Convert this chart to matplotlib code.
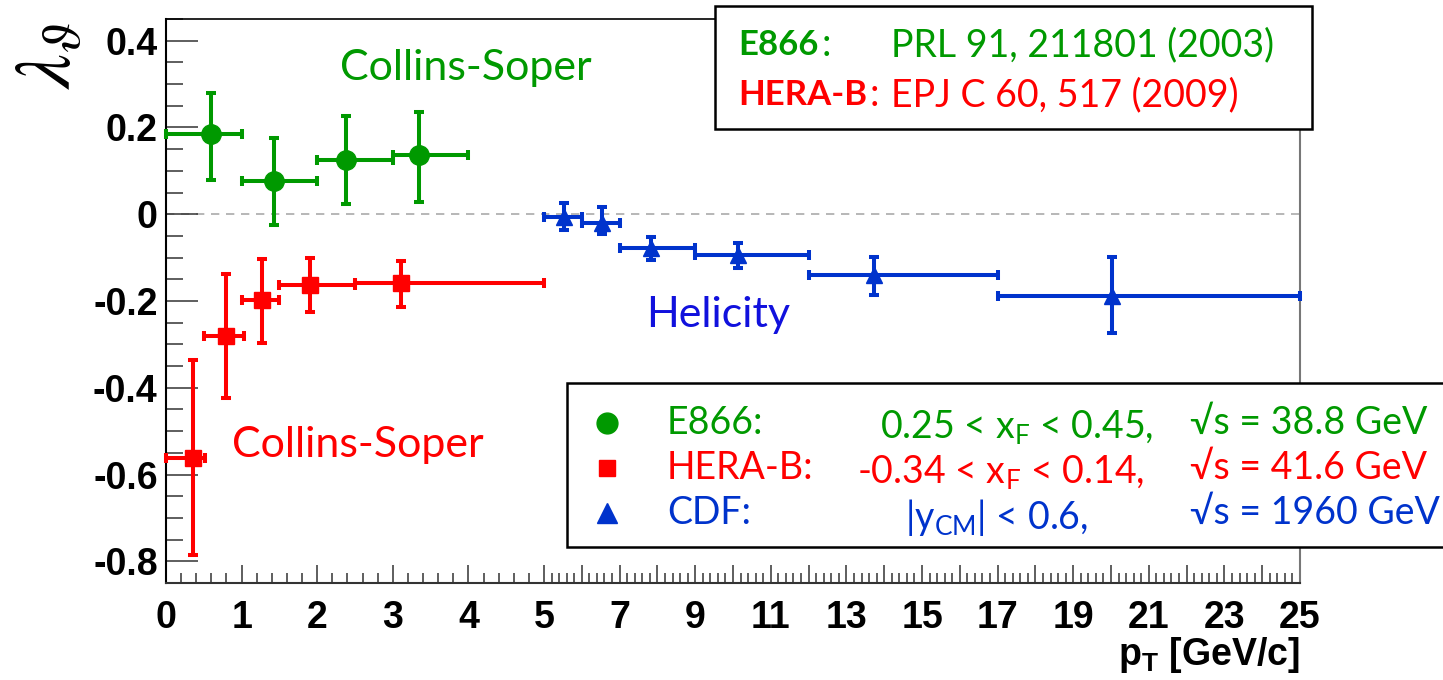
import matplotlib
matplotlib.use("Agg")
import matplotlib.pyplot as plt
from matplotlib.patches import Rectangle
from matplotlib.lines import Line2D
from matplotlib.ticker import FixedLocator, FuncFormatter
import numpy as np

plt.rcParams['axes.unicode_minus'] = False
plt.rcParams['mathtext.fontset'] = 'custom'
plt.rcParams['mathtext.rm'] = 'Lato'
plt.rcParams['mathtext.it'] = 'Lato:italic'
plt.rcParams['mathtext.bf'] = 'Liberation Sans:bold'

# E866, Collins-Soper frame
e866_pt = [0.60, 1.43, 2.38, 3.35]
e866_pt_lo = [0.0, 1.0, 2.0, 3.0]
e866_pt_hi = [1.0, 2.0, 3.0, 4.0]
e866_lam = [0.184, 0.076, 0.125, 0.136]
e866_lam_lo = [0.078, -0.025, 0.023, 0.028]
e866_lam_hi = [0.280, 0.176, 0.226, 0.235]

# HERA-B, Collins-Soper frame
herab_pt = [0.36, 0.80, 1.27, 1.91, 3.11]
herab_pt_lo = [0.0, 0.5, 1.0, 1.5, 2.5]
herab_pt_hi = [0.52, 1.03, 1.5, 2.5, 5.0]
herab_lam = [-0.561, -0.280, -0.198, -0.163, -0.159]
herab_lam_lo = [-0.786, -0.423, -0.297, -0.226, -0.213]
herab_lam_hi = [-0.336, -0.138, -0.104, -0.100, -0.107]

# CDF, helicity frame
cdf_pt = [5.52, 6.53, 7.83, 10.14, 13.73, 20.02]
cdf_pt_lo = [5, 6, 7, 9, 12, 17]
cdf_pt_hi = [6, 7, 9, 12, 17, 25]
cdf_lam = [-0.007, -0.020, -0.078, -0.094, -0.140, -0.188]
cdf_lam_lo = [-0.037, -0.046, -0.106, -0.124, -0.186, -0.273]
cdf_lam_hi = [0.026, 0.016, -0.052, -0.066, -0.098, -0.098]

GREEN = '#009900'
RED = '#ff0000'
BLUE = '#0033cc'

W, H = 1443, 680


def fx(p):
    return p / W


def fy(p):
    return 1 - p / H


def fwd(x):
    x = np.asarray(x, dtype=float)
    return np.where(x <= 5, x, 5 + (x - 5) / 2)


def inv(u):
    u = np.asarray(u, dtype=float)
    return np.where(u <= 5, u, 5 + 2 * (u - 5))


def draw_series(ax, pt, lo, hi, lam, lam_lo, lam_hi, color, marker, ms):
    pt = np.array(pt)
    lam = np.array(lam)
    xerr = [pt - np.array(lo), np.array(hi) - pt]
    yerr = [lam - np.array(lam_lo), np.array(lam_hi) - lam]
    ax.errorbar(pt, lam, xerr=xerr, yerr=yerr, fmt=marker, color=color,
                ms=ms, elinewidth=2.9, capsize=3.5, capthick=2.9,
                clip_on=False, zorder=3)


fig = plt.figure(figsize=(W / 100, H / 100), dpi=100)
ax = fig.add_axes([fx(166), 1 - 583 / H, (1300 - 166) / W, (583 - 19) / H])
ax.set_xscale('function', functions=(fwd, inv))
ax.set_xlim(0, 25)
ax.set_ylim(-0.85, 0.45)

ax.axhline(0, color='#aaaaaa', lw=1.2, ls=(0, (5, 4)), zorder=1)

draw_series(ax, e866_pt, e866_pt_lo, e866_pt_hi, e866_lam, e866_lam_lo, e866_lam_hi, GREEN, 'o', 14)
draw_series(ax, herab_pt, herab_pt_lo, herab_pt_hi, herab_lam, herab_lam_lo, herab_lam_hi, RED, 's', 11)
draw_series(ax, cdf_pt, cdf_pt_lo, cdf_pt_hi, cdf_lam, cdf_lam_lo, cdf_lam_hi, BLUE, '^', 12)

# ticks
major_x = list(range(0, 26))
minor_x = [v for v in np.round(np.arange(0, 125.5) * 0.2, 1) if abs(v - round(v)) > 1e-6]
ax.xaxis.set_major_locator(FixedLocator(major_x))
ax.xaxis.set_minor_locator(FixedLocator(minor_x))
ax.xaxis.set_major_formatter(FuncFormatter(
    lambda v, _: '%d' % v if (v <= 5 or int(round(v)) % 2 == 1) else ''))
ax.yaxis.set_major_locator(FixedLocator(np.round(np.arange(-0.8, 0.41, 0.2), 1)))
ax.yaxis.set_minor_locator(FixedLocator(np.round(np.arange(-0.85, 0.451, 0.05), 2)))
ax.yaxis.set_major_formatter(FuncFormatter(lambda v, _: '%g' % (round(v, 2) + 0.0)))

ax.tick_params(axis='y', which='major', direction='in', length=23, width=1.1,
               color='#333333', pad=6)
ax.tick_params(axis='y', which='minor', direction='in', length=12, width=1.1,
               color='#333333')
ax.tick_params(axis='x', which='major', direction='in', length=13, width=1.1,
               color='#333333', pad=12)
ax.tick_params(axis='x', which='minor', direction='in', length=7, width=1.1,
               color='#333333')
for lab in ax.get_xticklabels() + ax.get_yticklabels():
    lab.set_fontfamily('Liberation Sans')
    lab.set_fontweight('bold')
    lab.set_fontsize(27)

ax.spines['left'].set_color('black')
ax.spines['left'].set_linewidth(1.5)
ax.spines['top'].set_color('black')
ax.spines['top'].set_linewidth(1.2)
ax.spines['bottom'].set_color('#333333')
ax.spines['bottom'].set_linewidth(1.5)
ax.spines['right'].set_color('#777777')
ax.spines['right'].set_linewidth(1.5)

# axis titles
fig.text(fx(48), fy(55), r'$\lambda_\vartheta$', rotation=90, ha='center',
         va='center', fontsize=56, math_fontfamily='stix')
fig.text(fx(1300), fy(655), r'$\mathbf{p}_\mathbf{T}$ [GeV/c]', ha='right',
         va='center', fontsize=27, fontfamily='Liberation Sans', fontweight='bold')

# frame labels
lato = ['Lato', 'DejaVu Sans']
ax.text(2.3, 0.338, 'Collins-Soper', color=GREEN, fontsize=31, family=lato,
        ha='left', va='center')
ax.text(0.87, -0.531, 'Collins-Soper', color=RED, fontsize=31, family=lato,
        ha='left', va='center')
ax.text(7.69, -0.232, 'Helicity', color='#1111dd', fontsize=31, family=lato,
        ha='left', va='center')

# reference box
fig.add_artist(Rectangle((fx(715), fy(129)), (1312 - 715) / W, (129 - 6) / H,
                         transform=fig.transFigure, facecolor='white',
                         edgecolor='black', lw=1.8, zorder=5))
refs = [('E866', 'PRL 91, 211801 (2003)', GREEN, 45),
        ('HERA-B', 'EPJ C 60, 517 (2009)', RED, 95)]
renderer = fig.canvas.get_renderer()
for name, ref, col, yy in refs:
    t = fig.text(fx(738), fy(yy), name, color=col, fontsize=25, family=lato,
                 fontweight='bold', ha='left', va='center', zorder=6)
    right_px = t.get_window_extent(renderer).x1
    fig.text((right_px + 3) / W, fy(yy), ':', color=col, fontsize=27,
             family=lato, ha='left', va='center', zorder=6)
    fig.text(fx(891), fy(yy), ref, color=col, fontsize=27, family=lato,
             ha='left', va='center', zorder=6)

# legend box
fig.add_artist(Rectangle((fx(567), fy(547)), (1460 - 567) / W, (547 - 383) / H,
                         transform=fig.transFigure, facecolor='white',
                         edgecolor='black', lw=1.8, zorder=5, clip_on=False))
legend_rows = [
    ('o', 15, 'E866:', r'0.25 < x$_{\mathrm{F}}$ < 0.45,', 880, '\u221as = 38.8 GeV', GREEN, 423),
    ('s', 12, 'HERA-B:', r'-0.34 < x$_{\mathrm{F}}$ < 0.14,', 857, '\u221as = 41.6 GeV', RED, 468),
    ('^', 14, 'CDF:', r'|y$_{\mathrm{CM}}$| < 0.6,', 905, '\u221as = 1960 GeV', BLUE, 513),
]
for mk, ms, name, cond, cx, rs, col, yy in legend_rows:
    fig.add_artist(Line2D([fx(607)], [fy(yy)], transform=fig.transFigure,
                          marker=mk, ms=ms, color=col, ls='none', zorder=6))
    fig.text(fx(667), fy(yy), name, color=col, fontsize=27, family=lato,
             ha='left', va='center', zorder=6)
    fig.text(fx(cx), fy(yy), cond, color=col, fontsize=27, family=lato,
             ha='left', va='center_baseline', zorder=6)
    fig.text(fx(1190), fy(yy), rs, color=col, fontsize=27, family=lato,
             ha='left', va='center', zorder=6)

fig.savefig('out.png', dpi=100)
